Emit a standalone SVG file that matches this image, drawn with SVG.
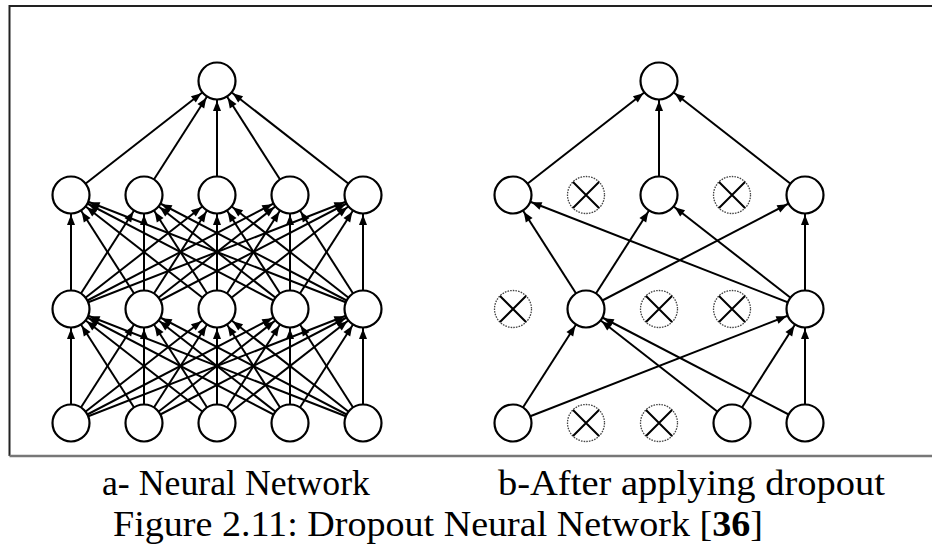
<svg xmlns="http://www.w3.org/2000/svg" width="932" height="544" viewBox="0 0 932 544">
<style>
.e{stroke:#000;stroke-width:2;fill:none;marker-end:url(#ah)}
.n{fill:#fff;stroke:#000;stroke-width:2.2}
.d{fill:#fff;stroke:#444;stroke-width:1.3;stroke-dasharray:1.6 1.1}
.x{stroke:#000;stroke-width:2}
.t{font-family:"Liberation Serif","Times New Roman",serif;font-size:36px;fill:#000}
</style>
<defs>
<marker id="ah" markerUnits="userSpaceOnUse" viewBox="-32 -6 34 12" markerWidth="34" markerHeight="12" refX="0" refY="0" orient="auto" overflow="visible">
<path d="M-30,-4 L-19.8,0 L-30,4 Z" fill="#000"/>
</marker>
<circle id="c" r="18.5"/>
</defs>
<rect width="932" height="544" fill="#fff"/>
<path d="M932,6 H9.5 V456" fill="none" stroke="#222" stroke-width="2"/>
<path d="M9.5,456 H932" fill="none" stroke="#777" stroke-width="2.5"/>
<g id="connectors">
<line class="e" x1="71" y1="195" x2="217" y2="81"/>
<line class="e" x1="144" y1="195" x2="217" y2="81"/>
<line class="e" x1="217" y1="195" x2="217" y2="81"/>
<line class="e" x1="290" y1="195" x2="217" y2="81"/>
<line class="e" x1="363" y1="195" x2="217" y2="81"/>
<line class="e" x1="71" y1="309" x2="71" y2="195"/>
<line class="e" x1="144" y1="309" x2="71" y2="195"/>
<line class="e" x1="217" y1="309" x2="71" y2="195"/>
<line class="e" x1="290" y1="309" x2="71" y2="195"/>
<line class="e" x1="363" y1="309" x2="71" y2="195"/>
<line class="e" x1="71" y1="309" x2="144" y2="195"/>
<line class="e" x1="144" y1="309" x2="144" y2="195"/>
<line class="e" x1="217" y1="309" x2="144" y2="195"/>
<line class="e" x1="290" y1="309" x2="144" y2="195"/>
<line class="e" x1="363" y1="309" x2="144" y2="195"/>
<line class="e" x1="71" y1="309" x2="217" y2="195"/>
<line class="e" x1="144" y1="309" x2="217" y2="195"/>
<line class="e" x1="217" y1="309" x2="217" y2="195"/>
<line class="e" x1="290" y1="309" x2="217" y2="195"/>
<line class="e" x1="363" y1="309" x2="217" y2="195"/>
<line class="e" x1="71" y1="309" x2="290" y2="195"/>
<line class="e" x1="144" y1="309" x2="290" y2="195"/>
<line class="e" x1="217" y1="309" x2="290" y2="195"/>
<line class="e" x1="290" y1="309" x2="290" y2="195"/>
<line class="e" x1="363" y1="309" x2="290" y2="195"/>
<line class="e" x1="71" y1="309" x2="363" y2="195"/>
<line class="e" x1="144" y1="309" x2="363" y2="195"/>
<line class="e" x1="217" y1="309" x2="363" y2="195"/>
<line class="e" x1="290" y1="309" x2="363" y2="195"/>
<line class="e" x1="363" y1="309" x2="363" y2="195"/>
<line class="e" x1="71" y1="423" x2="71" y2="309"/>
<line class="e" x1="144" y1="423" x2="71" y2="309"/>
<line class="e" x1="217" y1="423" x2="71" y2="309"/>
<line class="e" x1="290" y1="423" x2="71" y2="309"/>
<line class="e" x1="363" y1="423" x2="71" y2="309"/>
<line class="e" x1="71" y1="423" x2="144" y2="309"/>
<line class="e" x1="144" y1="423" x2="144" y2="309"/>
<line class="e" x1="217" y1="423" x2="144" y2="309"/>
<line class="e" x1="290" y1="423" x2="144" y2="309"/>
<line class="e" x1="363" y1="423" x2="144" y2="309"/>
<line class="e" x1="71" y1="423" x2="217" y2="309"/>
<line class="e" x1="144" y1="423" x2="217" y2="309"/>
<line class="e" x1="217" y1="423" x2="217" y2="309"/>
<line class="e" x1="290" y1="423" x2="217" y2="309"/>
<line class="e" x1="363" y1="423" x2="217" y2="309"/>
<line class="e" x1="71" y1="423" x2="290" y2="309"/>
<line class="e" x1="144" y1="423" x2="290" y2="309"/>
<line class="e" x1="217" y1="423" x2="290" y2="309"/>
<line class="e" x1="290" y1="423" x2="290" y2="309"/>
<line class="e" x1="363" y1="423" x2="290" y2="309"/>
<line class="e" x1="71" y1="423" x2="363" y2="309"/>
<line class="e" x1="144" y1="423" x2="363" y2="309"/>
<line class="e" x1="217" y1="423" x2="363" y2="309"/>
<line class="e" x1="290" y1="423" x2="363" y2="309"/>
<line class="e" x1="363" y1="423" x2="363" y2="309"/>
<line class="e" x1="513" y1="195" x2="659" y2="81"/>
<line class="e" x1="659" y1="195" x2="659" y2="81"/>
<line class="e" x1="805" y1="195" x2="659" y2="81"/>
<line class="e" x1="586" y1="309" x2="513" y2="195"/>
<line class="e" x1="805" y1="309" x2="513" y2="195"/>
<line class="e" x1="586" y1="309" x2="659" y2="195"/>
<line class="e" x1="805" y1="309" x2="659" y2="195"/>
<line class="e" x1="586" y1="309" x2="805" y2="195"/>
<line class="e" x1="805" y1="309" x2="805" y2="195"/>
<line class="e" x1="513" y1="423" x2="586" y2="309"/>
<line class="e" x1="732" y1="423" x2="586" y2="309"/>
<line class="e" x1="805" y1="423" x2="586" y2="309"/>
<line class="e" x1="513" y1="423" x2="805" y2="309"/>
<line class="e" x1="732" y1="423" x2="805" y2="309"/>
<line class="e" x1="805" y1="423" x2="805" y2="309"/>
</g>
<g id="a-out"><use href="#c" class="n" x="217" y="81"/></g>
<g id="a-h2-1"><use href="#c" class="n" x="71" y="195"/></g>
<g id="a-h2-2"><use href="#c" class="n" x="144" y="195"/></g>
<g id="a-h2-3"><use href="#c" class="n" x="217" y="195"/></g>
<g id="a-h2-4"><use href="#c" class="n" x="290" y="195"/></g>
<g id="a-h2-5"><use href="#c" class="n" x="363" y="195"/></g>
<g id="a-h1-1"><use href="#c" class="n" x="71" y="309"/></g>
<g id="a-h1-2"><use href="#c" class="n" x="144" y="309"/></g>
<g id="a-h1-3"><use href="#c" class="n" x="217" y="309"/></g>
<g id="a-h1-4"><use href="#c" class="n" x="290" y="309"/></g>
<g id="a-h1-5"><use href="#c" class="n" x="363" y="309"/></g>
<g id="a-in-1"><use href="#c" class="n" x="71" y="423"/></g>
<g id="a-in-2"><use href="#c" class="n" x="144" y="423"/></g>
<g id="a-in-3"><use href="#c" class="n" x="217" y="423"/></g>
<g id="a-in-4"><use href="#c" class="n" x="290" y="423"/></g>
<g id="a-in-5"><use href="#c" class="n" x="363" y="423"/></g>
<g id="b-out"><use href="#c" class="n" x="659" y="81"/></g>
<g id="b-h2-1"><use href="#c" class="n" x="513" y="195"/></g>
<g id="b-h2-2"><use href="#c" class="d" x="586" y="195"/><path class="x" d="M573,182 L599,208 M599,182 L573,208"/></g>
<g id="b-h2-3"><use href="#c" class="n" x="659" y="195"/></g>
<g id="b-h2-4"><use href="#c" class="d" x="732" y="195"/><path class="x" d="M719,182 L745,208 M745,182 L719,208"/></g>
<g id="b-h2-5"><use href="#c" class="n" x="805" y="195"/></g>
<g id="b-h1-1"><use href="#c" class="d" x="513" y="309"/><path class="x" d="M500,296 L526,322 M526,296 L500,322"/></g>
<g id="b-h1-2"><use href="#c" class="n" x="586" y="309"/></g>
<g id="b-h1-3"><use href="#c" class="d" x="659" y="309"/><path class="x" d="M646,296 L672,322 M672,296 L646,322"/></g>
<g id="b-h1-4"><use href="#c" class="d" x="732" y="309"/><path class="x" d="M719,296 L745,322 M745,296 L719,322"/></g>
<g id="b-h1-5"><use href="#c" class="n" x="805" y="309"/></g>
<g id="b-in-1"><use href="#c" class="n" x="513" y="423"/></g>
<g id="b-in-2"><use href="#c" class="d" x="586" y="423"/><path class="x" d="M573,410 L599,436 M599,410 L573,436"/></g>
<g id="b-in-3"><use href="#c" class="d" x="659" y="423"/><path class="x" d="M646,410 L672,436 M672,410 L646,436"/></g>
<g id="b-in-4"><use href="#c" class="n" x="732" y="423"/></g>
<g id="b-in-5"><use href="#c" class="n" x="805" y="423"/></g>
<text class="t" x="102" y="495" textLength="268" lengthAdjust="spacingAndGlyphs">a- Neural Network</text>
<text class="t" x="498" y="495" textLength="387" lengthAdjust="spacingAndGlyphs">b-After applying dropout</text>
<text class="t" x="113" y="536" textLength="650" lengthAdjust="spacingAndGlyphs">Figure 2.11: Dropout Neural Network [<tspan font-weight="bold">36</tspan>]</text>
</svg>
